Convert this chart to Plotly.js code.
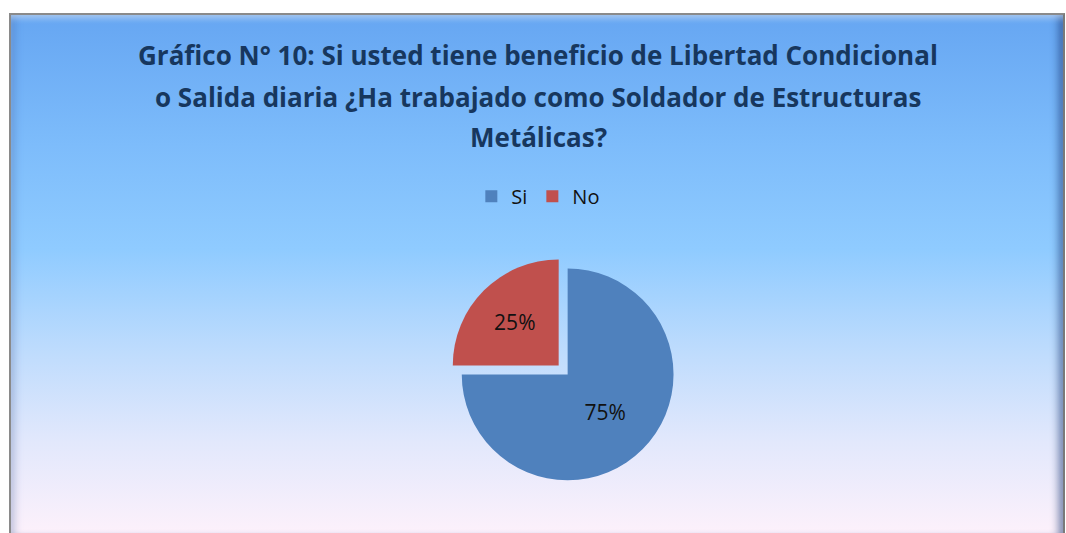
<!DOCTYPE html>
<html>
<head>
<meta charset="utf-8">
<script src="https://cdn.plot.ly/plotly-3.0.1.min.js"></script>
<style>
html,body{margin:0;padding:0;background:#ffffff;}
#wrap{position:relative;width:1066px;height:533px;overflow:hidden;}
#frame{position:absolute;left:9px;top:13px;width:1052px;height:520px;
  border-left:2px solid #8a8a8a;border-top:2px solid #8a8a8a;border-right:2px solid #7a7a7a;
  background:linear-gradient(to bottom,#66a6f2 0%,#7dbcfb 25%,#8fcbff 45%,#bfdcfd 65%,#e2e8fc 82%,#fdf1fb 100%);
  box-shadow: inset 0 6px 6px -3px rgba(255,255,255,0.5), inset -8px 0 8px -4px rgba(20,50,110,0.6), inset 8px 0 8px -5px rgba(60,90,150,0.35);}
#chart{position:absolute;left:0;top:0;width:1066px;height:533px;}
</style>
</head>
<body>
<div id="wrap">
  <div id="frame"></div>
  <div id="chart"></div>
</div>
<script>
const categories = ["Si", "No"];
const values = [75, 25];
const colors = ["#4F81BD", "#C0504D"];
const titleLines = [
  "Gráfico N° 10: Si usted tiene beneficio de Libertad Condicional",
  "o Salida diaria ¿Ha trabajado como Soldador de Estructuras",
  "Metálicas?"
];

const trace = {
  type: "pie",
  labels: categories,
  values: values,
  sort: false,
  direction: "clockwise",
  rotation: 0,
  pull: [0, 0.12],
  marker: {colors: colors, line: {color: "rgba(0,0,0,0)", width: 0}},
  textinfo: "percent",
  textposition: "inside",
  insidetextorientation: "horizontal",
  textfont: {family: "Open Sans, sans-serif", size: 21, color: "#111111"},
  hoverinfo: "label+percent",
  domain: {x: [0.39, 0.675], y: [0.075, 0.52]}
};

const titleY = [55, 97, 137];
const annotations = titleLines.map((t, i) => ({
  text: t,
  xref: "paper", yref: "paper",
  x: 0.505, xanchor: "center",
  y: 1 - titleY[i] / 533, yanchor: "middle",
  showarrow: false,
  font: {family: "Open Sans, sans-serif", size: 26, color: "#17375E", weight: "bold"}
}));

const layout = {
  width: 1066,
  height: 533,
  margin: {l: 0, r: 0, t: 0, b: 0},
  paper_bgcolor: "rgba(0,0,0,0)",
  plot_bgcolor: "rgba(0,0,0,0)",
  annotations: annotations,
  showlegend: true,
  legend: {
    orientation: "h",
    x: 0.505, xanchor: "center",
    y: 0.632, yanchor: "middle",
    font: {family: "Open Sans, sans-serif", size: 20, color: "#111111"},
    bgcolor: "rgba(0,0,0,0)",
    itemwidth: 30,
    traceorder: "normal"
  }
};

Plotly.newPlot("chart", [trace], layout, {displayModeBar: false, staticPlot: true});
</script>
</body>
</html>
